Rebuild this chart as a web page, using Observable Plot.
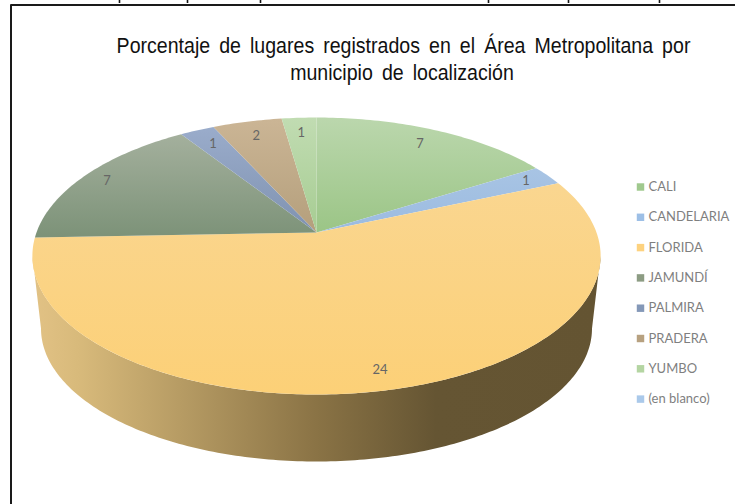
<!DOCTYPE html>
<html>
<head>
<meta charset="utf-8">
<script src="https://cdn.jsdelivr.net/npm/d3@7"></script>
<script src="https://cdn.jsdelivr.net/npm/@observablehq/plot@0.6"></script>
<style>
html,body{margin:0;padding:0;background:#fff;}
svg{display:block;}
.ttl text{font-family:"Liberation Sans",Arial,sans-serif;word-spacing:4px;}
.sm text{font-family:Lato,"Open Sans",sans-serif;}
</style>
</head>
<body>
<div id="c"></div>
<script>
const categories = ["CALI","CANDELARIA","FLORIDA","JAMUNDÍ","PALMIRA","PRADERA","YUMBO","(en blanco)"];
const values = [7,1,24,7,1,2,1,0];
const topColors = ["#bbd7ad","#a8c4e4","#fad690","#a4b09d","#9aaccb","#cbb595","#c1dcb2","#b5d0ee"];
const bottomColors = ["#9bc586","#9bbbe0","#fcd077","#7c9278","#7f92b0","#b49f7c","#a6cc92","#aac9ea"];
const legendColors = ["#a0c98e","#9dbfe6","#fdd27f","#8c9c83","#8498b8","#b7a180","#b4d5a2","#aac9ea"];
const titleLines = ["Porcentaje de lugares registrados en el Área Metropolitana por","municipio de localización"];
const clippedX = [119,187,260,488,568,659];

// pie geometry: a tilted disc in perspective
const cx = 316, cy = 232, a = 280, b = 134.5, k = 0.1697;
const project = (deg, r = 1) => {
  const t = deg * Math.PI / 180, u = Math.sin(t), v = -Math.cos(t), d = 1 - k * r * v;
  return {x: cx + a * r * u / d, y: cy + b * r * v / d};
};
const total = d3.sum(values);
let acc = 0;
const slices = values.map((v, i) => {
  const start = acc / total * 360; acc += v;
  return {i, v, start, end: acc / total * 360};
}).filter(s => s.v > 0);
const slicePts = s => {
  const pts = [{x: cx, y: cy}];
  const n = Math.max(2, Math.ceil(s.end - s.start));
  for (let j = 0; j <= n; j++) pts.push(project(s.start + (s.end - s.start) * j / n));
  return pts;
};
// side wall: front half of top rim, then front half of lower rim
const side = [];
for (let t = 0; t <= 180; t += 1) side.push({x: 316 + 284 * Math.cos(t * Math.PI / 180), y: 255.5 + 138.5 * Math.sin(t * Math.PI / 180)});
for (let t = 180; t >= 0; t -= 1) side.push({x: 316 + 275.5 * Math.cos(t * Math.PI / 180), y: 328 + 133 * Math.sin(t * Math.PI / 180)});

const labels = slices.map(s => {
  const m = (s.start + s.end) / 2, u = Math.abs(Math.sin(m * Math.PI / 180));
  const p = project(m, u > 0.8 ? 0.9 : (s.v > 10 ? 0.89 : 0.85));
  return {...p, t: String(s.v)};
});
const rows = categories.map((c, i) => ({c, i, col: legendColors[i]}));

const NS = "http://www.w3.org/2000/svg";
const defs = () => {
  const d = document.createElementNS(NS, "defs");
  const stop = (g, o, c) => { const s = document.createElementNS(NS, "stop"); s.setAttribute("offset", o); s.setAttribute("stop-color", c); g.appendChild(s); };
  categories.forEach((c, i) => {
    const g = document.createElementNS(NS, "linearGradient");
    g.id = "g" + i; g.setAttribute("x1", 0); g.setAttribute("x2", 0); g.setAttribute("y1", 0); g.setAttribute("y2", 1);
    stop(g, 0, topColors[i]); stop(g, 1, bottomColors[i]); d.appendChild(g);
  });
  const w = document.createElementNS(NS, "linearGradient");
  w.id = "wall"; w.setAttribute("x1", 0); w.setAttribute("x2", 1); w.setAttribute("y1", 0); w.setAttribute("y2", 0);
  stop(w, 0, "#e2c285"); stop(w, 0.08, "#d8ba7b"); stop(w, 0.5, "#8a7345"); stop(w, 0.71, "#655533"); stop(w, 1, "#645432");
  d.appendChild(w);
  return d;
};

const plot = Plot.plot({
  width: 735, height: 504, margin: 0,
  x: {domain: [0, 735], range: [0, 735], axis: null},
  y: {domain: [0, 504], range: [0, 504], axis: null},
  marks: [
    defs,
    Plot.line([{x:735,y:4.5},{x:10.5,y:4.5},{x:10.5,y:504}], {x:"x", y:"y", stroke:"#1a1a1a", strokeWidth:2, curve:"linear"}),
    Plot.ruleX(clippedX, {y1:0, y2:3, stroke:"#111", strokeWidth:1.6}),
    Plot.line(side, {x:"x", y:"y", fill:"url(#wall)", stroke:"none", curve:"linear"}),
    ...slices.map(s => Plot.line(slicePts(s), {x:"x", y:"y", fill:`url(#g${s.i})`, stroke:"none", curve:"linear"})),
    Plot.text(labels, {x:"x", y:"y", text:"t", fontSize:13, fill:"#666", className:"sm"}),
    Plot.text(titleLines, {x:(d,i)=>[403,401.5][i], y:(d,i)=>[46,72.5][i], text:d=>d, fontSize:21.5, fill:"#111", className:"ttl"}),
    Plot.dot(rows, {x:()=>640, y:d=>186.5+d.i*30.3, symbol:"square", r:4.2, fill:"col", stroke:"none"}),
    Plot.text(rows, {x:()=>648, y:d=>186.5+d.i*30.3, text:"c", textAnchor:"start", fontSize:13, fill:"#7f7f7f", className:"sm"})
  ]
});
plot.querySelectorAll(".ttl text").forEach(t => {
  t.setAttribute("transform", (t.getAttribute("transform") || "") + " scale(0.91,1)");
});
document.getElementById("c").appendChild(plot);
</script>
</body>
</html>
